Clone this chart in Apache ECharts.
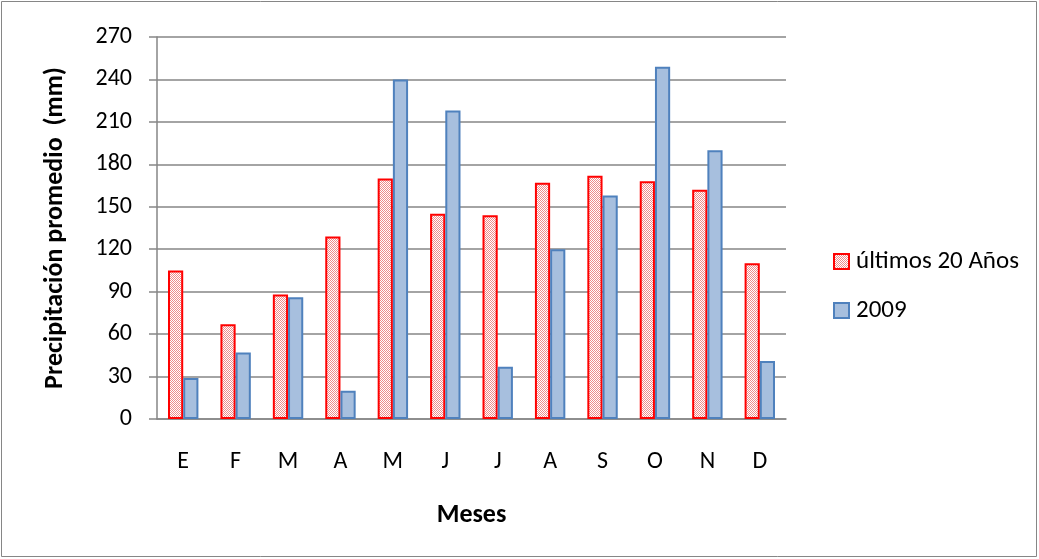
<!DOCTYPE html>
<html>
<head>
<meta charset="utf-8">
<script src="https://cdn.jsdelivr.net/npm/echarts@6/dist/echarts.min.js"></script>
<style>
  html, body { margin: 0; padding: 0; background: #fff; }
  #chart { width: 1039px; height: 559px; }
</style>
</head>
<body>
<div id="chart"></div>
<script>
// Monthly precipitation: 20-year average vs. 2009
const months = ['E', 'F', 'M', 'A', 'M', 'J', 'J', 'A', 'S', 'O', 'N', 'D'];
const ultimos20 = [105, 67, 88, 129, 170, 145, 144, 167, 172, 168, 162, 110];
const anio2009 = [29, 47, 86, 20, 240, 218, 37, 120, 158, 249, 190, 41];
const seriesNames = ['últimos 20 Años', '2009'];

const FONT = 'Carlito, Lato, "Open Sans", sans-serif';

// fine pink checker fill for the long-term average bars
function checker() {
  const c = document.createElement('canvas');
  c.width = 2; c.height = 2;
  const g = c.getContext('2d');
  g.fillStyle = '#ffffff';
  g.fillRect(0, 0, 2, 2);
  g.fillStyle = '#ee8c8c';
  g.fillRect(0, 0, 1, 1);
  g.fillRect(1, 1, 1, 1);
  return c;
}

const chart = echarts.init(document.getElementById('chart'));
chart.setOption({
  animation: false,
  textStyle: { fontFamily: FONT },
  graphic: [{
    type: 'rect',
    shape: { x: 1.5, y: 1.5, width: 1035, height: 555 },
    style: { fill: 'none', stroke: '#868686', lineWidth: 1 },
    silent: true
  }],
  grid: { left: 157, right: 253, top: 37, bottom: 140 },
  legend: {
    orient: 'vertical',
    left: 828,
    top: 244,
    itemWidth: 15,
    itemHeight: 15,
    itemGap: 24,
    icon: 'rect',
    textStyle: { fontSize: 25, color: '#000', fontFamily: FONT, padding: [0, 0, 0, 2] },
    data: seriesNames
  },
  xAxis: {
    type: 'category',
    data: months,
    name: 'Meses',
    nameLocation: 'middle',
    nameGap: 83,
    nameTextStyle: { fontSize: 26, fontWeight: 'bold', color: '#000', fontFamily: FONT },
    axisLine: { lineStyle: { color: '#868686', width: 1.5 } },
    axisTick: { show: false },
    axisLabel: { fontSize: 24, color: '#000', margin: 31 }
  },
  yAxis: {
    type: 'value',
    min: 0,
    max: 270,
    interval: 30,
    name: 'Precipitación promedio  (mm)',
    nameLocation: 'middle',
    nameGap: 89,
    nameRotate: 90,
    nameTextStyle: { fontSize: 26, fontWeight: 'bold', color: '#000', fontFamily: FONT },
    axisLine: { show: true, lineStyle: { color: '#868686', width: 1.5 } },
    axisTick: { show: true, length: 8, lineStyle: { color: '#868686', width: 1.5 } },
    axisLabel: { fontSize: 24, color: '#000', margin: 25 },
    splitLine: { lineStyle: { color: '#868686', width: 1.5 } }
  },
  series: [
    {
      name: seriesNames[0],
      type: 'bar',
      data: ultimos20,
      barGap: '0%',
      barCategoryGap: '42%',
      itemStyle: {
        color: { image: checker(), repeat: 'repeat' },
        borderColor: '#ff0000',
        borderWidth: 2
      }
    },
    {
      name: seriesNames[1],
      type: 'bar',
      data: anio2009,
      itemStyle: {
        color: '#a7bfde',
        borderColor: '#4f81bd',
        borderWidth: 2
      }
    }
  ]
});
</script>
</body>
</html>
